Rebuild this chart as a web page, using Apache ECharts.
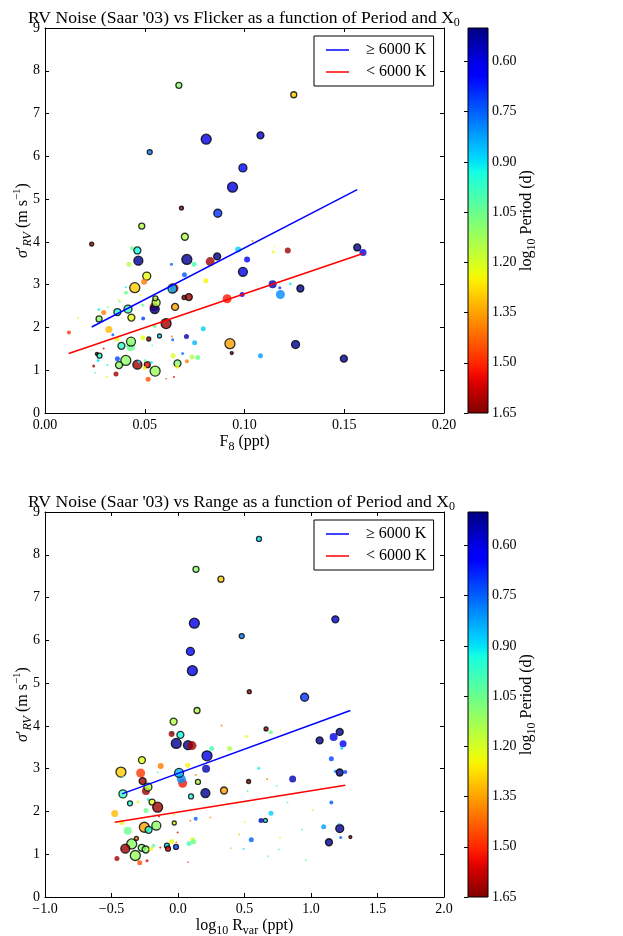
<!DOCTYPE html>
<html>
<head>
<meta charset="utf-8">
</head>
<body style="margin: 0">
<div id="container" style="width: 623px; height: 936px"></div>
<script src="https://cdn.jsdelivr.net/npm/echarts@6/dist/echarts.min.js"></script>
<script>
// rows: [x, sigma'RV (m/s), log10 Period (d), marker diameter (X0), black edge]
const flickerPts = [
  [0.0671, 7.66, 1.10, 6, 1], [0.1247, 7.44, 1.30, 6, 1], [0.0808, 6.40, 0.60, 10, 1],
  [0.1080, 6.49, 0.58, 7, 1], [0.0525, 6.10, 0.78, 5, 1], [0.0992, 5.73, 0.65, 8, 1],
  [0.0940, 5.28, 0.60, 10, 1], [0.0684, 4.79, 1.62, 4, 1], [0.0866, 4.67, 0.70, 8, 1],
  [0.0485, 4.37, 1.15, 6, 1], [0.0234, 3.95, 1.62, 4, 1], [0.0701, 4.12, 1.15, 7, 1],
  [0.0436, 3.85, 1.05, 4, 0], [0.0463, 3.80, 0.93, 7, 1], [0.0468, 3.56, 0.52, 9, 1],
  [0.0421, 3.48, 1.15, 5, 0], [0.0510, 3.20, 1.22, 8, 1], [0.0497, 3.07, 1.40, 6, 0],
  [0.0450, 2.93, 1.30, 10, 1], [0.0405, 2.94, 0.90, 2, 0], [0.0406, 2.81, 1.05, 4, 0],
  [0.0480, 2.76, 1.25, 2, 0], [0.0370, 2.64, 1.25, 2, 0], [0.0375, 2.60, 1.05, 2, 0],
  [0.0270, 2.42, 0.95, 3, 0], [0.0315, 2.48, 1.05, 2, 0], [0.0294, 2.35, 1.40, 5, 0],
  [0.0363, 2.36, 0.95, 7, 1], [0.0416, 2.43, 0.98, 8, 1], [0.0433, 2.23, 1.22, 7, 1],
  [0.0271, 2.20, 1.10, 6, 1], [0.0166, 2.22, 1.20, 2, 0], [0.0120, 1.88, 1.48, 4, 0],
  [0.0320, 1.95, 1.32, 7, 0], [0.0340, 1.83, 0.75, 3, 0], [0.0360, 1.73, 1.22, 5, 0],
  [0.0383, 1.57, 0.97, 7, 1], [0.0430, 1.55, 1.05, 9, 0], [0.0431, 1.67, 1.10, 9, 1],
  [0.0490, 1.76, 1.22, 5, 0], [0.0520, 1.73, 1.62, 4, 1], [0.0492, 2.21, 0.72, 4, 0],
  [0.0490, 2.52, 1.05, 3, 0], [0.0547, 2.48, 1.60, 9, 0], [0.0550, 2.43, 0.52, 9, 1],
  [0.0557, 2.58, 1.15, 8, 1], [0.0553, 2.68, 1.15, 5, 1], [0.0550, 2.03, 1.05, 4, 0],
  [0.0647, 2.92, 1.55, 9, 0], [0.0639, 2.91, 0.85, 9, 1], [0.0634, 3.48, 0.75, 3, 0],
  [0.0699, 3.23, 0.75, 5, 0], [0.0711, 3.59, 0.52, 10, 1], [0.0747, 3.48, 1.00, 5, 0],
  [0.0806, 3.09, 1.25, 5, 0], [0.0828, 3.54, 1.62, 9, 0], [0.0863, 3.66, 0.52, 7, 1],
  [0.0968, 3.82, 0.88, 6, 0], [0.1013, 3.59, 0.62, 6, 0], [0.1040, 4.02, 1.40, 2, 0],
  [0.0992, 3.30, 0.60, 9, 1], [0.0988, 2.77, 0.62, 5, 0], [0.0913, 2.67, 1.52, 9, 0],
  [0.0721, 2.71, 1.62, 7, 1], [0.0697, 2.70, 1.62, 4, 1], [0.0652, 2.48, 1.35, 7, 1],
  [0.0607, 2.09, 1.62, 10, 1], [0.0574, 1.80, 0.90, 4, 1], [0.0640, 1.71, 0.75, 3, 0],
  [0.0636, 1.79, 1.40, 2, 0], [0.0709, 1.79, 0.55, 5, 0], [0.0750, 1.64, 0.85, 5, 0],
  [0.0793, 1.97, 0.88, 5, 0], [0.0927, 1.62, 1.35, 10, 1], [0.0936, 1.40, 1.62, 3, 1],
  [0.1080, 1.34, 0.82, 5, 0], [0.1256, 1.60, 0.52, 8, 1], [0.1498, 1.27, 0.52, 7, 1],
  [0.1565, 3.87, 0.52, 7, 1], [0.1594, 3.75, 0.60, 7, 0], [0.1141, 3.01, 0.55, 8, 0],
  [0.1177, 2.93, 0.70, 3, 0], [0.1180, 2.77, 0.80, 9, 0], [0.1230, 3.02, 0.92, 3, 0],
  [0.1280, 2.91, 0.52, 7, 1], [0.1217, 3.80, 1.62, 6, 0], [0.1144, 3.77, 1.22, 3, 0],
  [0.1150, 3.90, 1.25, 1.5, 0], [0.0642, 1.34, 1.20, 5, 0], [0.0737, 1.31, 1.15, 5, 0],
  [0.0766, 1.30, 1.05, 5, 0], [0.0690, 1.39, 0.78, 3, 0], [0.0664, 1.16, 1.08, 7, 1],
  [0.0662, 1.08, 1.25, 4, 0], [0.0711, 1.21, 1.40, 4, 0], [0.0646, 0.84, 1.55, 2, 0],
  [0.0607, 0.80, 1.55, 1.5, 0], [0.0517, 0.79, 1.45, 5, 0], [0.0552, 0.98, 1.12, 10, 1],
  [0.0513, 1.13, 1.55, 6, 1], [0.0463, 1.13, 1.62, 9, 1], [0.0470, 1.20, 0.88, 3, 0],
  [0.0405, 1.23, 1.10, 10, 1], [0.0371, 1.12, 1.10, 7, 1], [0.0363, 1.27, 0.72, 5, 0],
  [0.0356, 0.91, 1.62, 5, 0], [0.0244, 1.10, 1.62, 3, 0], [0.0260, 1.38, 1.62, 3, 1],
  [0.0273, 1.34, 0.95, 5, 1], [0.0266, 1.23, 0.90, 3, 0], [0.0294, 1.51, 1.55, 2, 0],
  [0.0313, 1.12, 0.92, 2, 0], [0.0252, 0.94, 1.05, 2, 0], [0.0311, 0.85, 1.22, 2, 0],
  [0.0502, 1.23, 1.05, 3, 0], [0.0499, 1.05, 1.25, 4, 0], [0.0537, 1.58, 1.05, 2, 0],
  [0.0533, 1.18, 0.90, 3, 0]
];

const rangePts = [
  [0.609, 8.37, 0.90, 5, 1], [0.135, 7.66, 1.10, 6, 1], [0.323, 7.43, 1.30, 6, 1],
  [0.123, 6.40, 0.60, 10, 1], [1.183, 6.49, 0.58, 7, 1], [0.479, 6.10, 0.78, 5, 1],
  [0.093, 5.74, 0.65, 8, 1], [0.108, 5.29, 0.60, 10, 1], [0.536, 4.80, 1.62, 4, 1],
  [0.952, 4.67, 0.70, 8, 1], [0.143, 4.36, 1.15, 6, 1], [-0.033, 4.10, 1.15, 7, 1],
  [0.328, 4.01, 1.40, 2, 0], [0.662, 3.93, 1.62, 4, 1], [0.699, 3.85, 1.05, 4, 0],
  [0.770, 3.90, 1.25, 1.5, 0], [-0.045, 3.84, 0.88, 4, 0], [-0.048, 3.81, 1.62, 6, 0],
  [0.018, 3.79, 0.93, 7, 1], [-0.013, 3.59, 0.52, 10, 1], [0.075, 3.55, 0.52, 9, 1],
  [0.105, 3.54, 1.62, 9, 0], [0.253, 3.47, 1.00, 5, 0], [0.388, 3.47, 1.15, 5, 0],
  [0.514, 3.76, 1.22, 3, 0], [0.073, 3.08, 1.25, 5, 0], [0.218, 3.30, 0.60, 10, 1],
  [0.211, 3.00, 0.55, 8, 0], [0.133, 2.85, 1.40, 2, 0], [0.035, 2.66, 1.52, 9, 0],
  [0.025, 2.76, 0.80, 9, 0], [0.008, 2.90, 0.85, 9, 1], [0.150, 2.69, 1.15, 5, 1],
  [0.531, 2.70, 1.62, 4, 1], [0.670, 2.76, 1.40, 2, 0], [0.607, 3.01, 0.92, 3, 0],
  [0.743, 2.60, 1.05, 2, 0], [0.862, 2.76, 0.55, 7, 0], [0.206, 2.43, 0.52, 9, 1],
  [0.098, 2.35, 0.95, 5, 1], [0.346, 2.49, 1.35, 7, 1], [0.348, 2.64, 1.25, 1.5, 0],
  [0.523, 2.48, 1.00, 2, 0], [0.823, 2.21, 1.05, 2, 0], [1.013, 2.03, 1.20, 2, 0],
  [1.065, 3.66, 0.52, 7, 1], [1.170, 3.74, 0.60, 8, 0], [1.216, 3.86, 0.52, 7, 1],
  [1.241, 3.58, 0.62, 7, 0], [1.231, 3.48, 0.88, 3, 0], [1.153, 3.23, 0.72, 5, 0],
  [1.183, 2.94, 0.80, 3, 0], [1.216, 2.91, 0.52, 7, 1], [1.258, 2.92, 0.72, 4, 0],
  [1.153, 2.21, 0.75, 4, 0], [1.216, 1.60, 0.52, 8, 1], [1.213, 1.71, 0.88, 2, 0],
  [1.095, 1.64, 0.82, 5, 0], [1.223, 1.39, 0.75, 3, 0], [1.296, 1.40, 1.62, 3, 1],
  [1.135, 1.28, 0.52, 7, 1], [0.551, 1.34, 0.75, 5, 0], [0.933, 1.58, 1.05, 2, 0],
  [0.767, 1.39, 1.22, 2, 0], [0.758, 1.11, 1.05, 2, 0], [0.960, 0.86, 1.05, 2, 0],
  [0.624, 1.79, 0.55, 5, 0], [0.657, 1.79, 0.90, 4, 1], [0.699, 1.96, 0.88, 5, 0],
  [0.493, 1.12, 0.90, 2, 0], [0.675, 0.95, 1.05, 2, 0], [0.461, 1.46, 1.30, 2, 0],
  [0.398, 1.14, 1.10, 2, 0], [0.501, 1.75, 1.22, 2, 0], [0.133, 1.83, 0.75, 4, 0],
  [0.093, 1.78, 1.40, 2, 0], [0.243, 1.86, 1.35, 2, 0], [0.110, 1.34, 1.20, 5, 0],
  [0.118, 1.29, 1.05, 5, 0], [0.083, 1.25, 1.00, 5, 0], [-0.015, 1.17, 0.72, 5, 1],
  [-0.083, 1.20, 0.90, 5, 1], [-0.075, 1.13, 1.55, 5, 1], [-0.048, 1.30, 1.22, 5, 0],
  [-0.003, 1.51, 1.55, 2, 0], [-0.013, 1.28, 1.40, 2, 0], [0.075, 0.81, 1.55, 1.5, 0],
  [-0.028, 1.73, 1.22, 4, 1], [-0.233, 0.85, 1.55, 3, 0], [-0.288, 0.80, 1.45, 5, 0],
  [-0.321, 0.97, 1.12, 10, 1], [-0.348, 1.24, 1.10, 10, 1], [-0.396, 1.13, 1.62, 9, 1],
  [-0.459, 0.90, 1.62, 5, 0], [-0.313, 1.37, 1.40, 4, 1], [-0.273, 1.15, 1.08, 7, 1],
  [-0.243, 1.11, 1.10, 7, 1], [-0.203, 1.12, 1.25, 4, 0], [-0.185, 1.20, 1.05, 4, 0],
  [-0.133, 1.16, 1.55, 2, 0], [-0.163, 1.67, 1.10, 9, 1], [-0.253, 1.63, 1.35, 10, 1],
  [-0.221, 1.57, 0.95, 7, 1], [-0.378, 1.55, 1.05, 8, 0], [-0.476, 1.95, 1.32, 7, 0],
  [-0.421, 1.74, 1.22, 5, 0], [-0.361, 2.19, 0.95, 5, 1], [-0.301, 2.22, 1.22, 3, 0],
  [-0.223, 2.28, 0.92, 3, 0], [-0.241, 2.02, 1.05, 5, 0], [-0.195, 2.22, 1.22, 6, 1],
  [-0.153, 2.10, 1.62, 10, 1], [-0.143, 1.88, 1.55, 2, 0], [-0.033, 1.93, 1.25, 2, 0],
  [-0.429, 2.92, 1.30, 10, 1], [-0.411, 2.81, 1.05, 2, 0], [-0.414, 2.41, 0.98, 8, 1],
  [-0.281, 2.90, 1.48, 9, 0], [-0.266, 2.71, 1.62, 7, 1], [-0.241, 2.48, 1.62, 8, 0],
  [-0.226, 2.57, 1.15, 8, 1], [-0.271, 3.20, 1.22, 7, 1], [-0.130, 3.06, 1.40, 6, 0],
  [-0.153, 2.91, 1.05, 2, 0]
];

// linear fits, endpoints [x, y]
const hotFitF8 = [[0.0234, 2.01], [0.1565, 5.22]];
const coolFitF8 = [[0.0119, 1.39], [0.1594, 3.73]];
const hotFitR = [[-0.421, 2.41], [1.296, 4.36]];
const coolFitR = [[-0.476, 1.75], [1.258, 2.61]];

const legendNames = ['\u2265 6000 K', '< 6000 K'];
const periodRange = [0.5, 1.65];
const periodTicks = [0.60, 0.75, 0.90, 1.05, 1.20, 1.35, 1.50, 1.65];

const FONT = 'Liberation Serif';

// matplotlib "jet"
function seg(s, t) {
  for (let i = 1; i < s.length; i++) {
    if (t <= s[i][0]) {
      const a = s[i - 1], b = s[i];
      return a[1] + (b[1] - a[1]) * (t - a[0]) / (b[0] - a[0]);
    }
  }
  return s[s.length - 1][1];
}
function jet(t) {
  const r = seg([[0, 0], [0.35, 0], [0.66, 1], [0.89, 1], [1, 0.5]], t);
  const g = seg([[0, 0], [0.125, 0], [0.375, 1], [0.64, 1], [0.91, 0], [1, 0]], t);
  const b = seg([[0, 0.5], [0.11, 1], [0.34, 1], [0.65, 0], [1, 0]], t);
  return 'rgb(' + Math.round(r * 255) + ',' + Math.round(g * 255) + ',' + Math.round(b * 255) + ')';
}
const jetColors = [];
const jetStops = [];
for (let i = 0; i <= 40; i++) {
  jetColors.push(jet(i / 40));
  jetStops.push({ offset: i / 40, color: jet(i / 40) });
}

function toItems(rows) {
  return rows.map(function (r) {
    return {
      value: [r[0], r[1], r[2]],
      symbolSize: r[3],
      itemStyle: r[4] ? { borderColor: '#000', borderWidth: 1.3 } : { borderWidth: 0 }
    };
  });
}

const minus = function (s) { return s.replace('-', '\u2212'); };

const richText = {
  sub: { fontFamily: FONT, fontSize: 12, verticalAlign: 'bottom', lineHeight: 12, color: '#000' },
  subit: { fontFamily: FONT, fontSize: 12, fontStyle: 'italic', verticalAlign: 'bottom', lineHeight: 12, color: '#000' },
  sup: { fontFamily: FONT, fontSize: 11, verticalAlign: 'top', lineHeight: 11, color: '#000' },
  it: { fontFamily: FONT, fontSize: 16, fontStyle: 'italic', color: '#000' }
};

const tickLabel = { fontFamily: FONT, fontSize: 14, color: '#000' };
const frameLine = { show: true, onZero: false, lineStyle: { color: '#000', width: 1 } };
const inTick = { show: true, inside: true, length: 4, lineStyle: { color: '#000' } };
const nameStyle = { fontFamily: FONT, fontSize: 16, color: '#000', lineHeight: 22, rich: richText };

function plotAxes(gridIndex, xmin, xmax, xint, xfmt, xname) {
  const x = [
    {
      type: 'value', gridIndex: gridIndex, position: 'bottom', min: xmin, max: xmax, interval: xint,
      axisLine: frameLine, axisTick: inTick, splitLine: { show: false },
      axisLabel: Object.assign({ margin: 5, formatter: xfmt }, tickLabel),
      name: xname, nameLocation: 'middle', nameGap: 18, nameMoveOverlap: false,
      nameTextStyle: nameStyle
    },
    {
      type: 'value', gridIndex: gridIndex, position: 'top', min: xmin, max: xmax, interval: xint,
      axisLine: frameLine, axisTick: inTick, splitLine: { show: false }, axisLabel: { show: false }
    }
  ];
  const y = [
    {
      type: 'value', gridIndex: gridIndex, position: 'left', min: 0, max: 9, interval: 1,
      axisLine: frameLine, axisTick: inTick, splitLine: { show: false },
      axisLabel: Object.assign({ margin: 5 }, tickLabel),
      name: "{it|\u03c3}\u2032{subit|RV} (m s{sup|\u22121})", nameLocation: 'middle', nameGap: 11, nameRotate: 90,
      nameMoveOverlap: false, nameTextStyle: nameStyle
    },
    {
      type: 'value', gridIndex: gridIndex, position: 'right', min: 0, max: 9, interval: 1,
      axisLine: frameLine, axisTick: inTick, splitLine: { show: false }, axisLabel: { show: false }
    }
  ];
  return { x: x, y: y };
}

function cbarAxes(gridIndex) {
  return {
    x: { type: 'value', gridIndex: gridIndex, min: 0, max: 1, show: false },
    y: {
      type: 'value', gridIndex: gridIndex, position: 'right', inverse: true,
      min: periodRange[0], max: periodRange[1],
      axisLine: { show: false }, splitLine: { show: false },
      axisTick: { show: true, inside: true, length: 4, customValues: periodTicks, lineStyle: { color: '#000' } },
      axisLabel: Object.assign({ margin: 4, customValues: periodTicks, formatter: function (v) { return v.toFixed(2); } }, tickLabel),
      name: 'log{sub|10} Period (d)', nameLocation: 'middle', nameGap: 28, nameRotate: 90,
      nameMoveOverlap: false, nameTextStyle: nameStyle
    }
  };
}

const a1 = plotAxes(0, 0, 0.2, 0.05, function (v) { return v.toFixed(2); }, 'F{sub|8} (ppt)');
const c1 = cbarAxes(1);
const a2 = plotAxes(2, -1, 2, 0.5, function (v) { return minus(v.toFixed(1)); }, 'log{sub|10} R{sub|var} (ppt)');
const c2 = cbarAxes(3);

function fitSeries(name, data, color, xi, yi) {
  return {
    name: name, type: 'line', xAxisIndex: xi, yAxisIndex: yi, data: data,
    symbol: 'none', color: color, lineStyle: { color: color, width: 1.5 }, z: 5, silent: true
  };
}

function cbarSeries(xi, yi) {
  return {
    type: 'custom', xAxisIndex: xi, yAxisIndex: yi, silent: true,
    data: [[periodRange[0], periodRange[1]]],
    renderItem: function (params, api) {
      const p0 = api.coord([0, api.value(0)]);
      const p1 = api.coord([1, api.value(1)]);
      return {
        type: 'rect',
        shape: { x: p0[0], y: p0[1], width: p1[0] - p0[0], height: p1[1] - p0[1] },
        style: { fill: new echarts.graphic.LinearGradient(0, 0, 0, 1, jetStops), stroke: '#000', lineWidth: 1 }
      };
    }
  };
}

function legendAt(top) {
  return {
    left: 314, top: top, orient: 'vertical', data: legendNames,
    icon: 'rect', itemWidth: 23, itemHeight: 1.5, itemGap: 6,
    padding: [6, 7, 6, 12], borderColor: '#000', borderWidth: 1, borderRadius: 0,
    backgroundColor: '#fff', selectedMode: false,
    textStyle: { fontFamily: FONT, fontSize: 16, color: '#000', lineHeight: 16, padding: [0, 0, 0, 12] }
  };
}

function titleAt(text, top) {
  return {
    text: text, left: 23, top: top,
    textStyle: { fontFamily: FONT, fontSize: 17.6, fontWeight: 'normal', color: '#000', lineHeight: 22, rich: {
      sub: { fontFamily: FONT, fontSize: 12, verticalAlign: 'bottom', lineHeight: 12, color: '#000' }
    } }
  };
}

const chart = echarts.init(document.getElementById('container'), null, { renderer: 'canvas' });

const option = {
  animation: false,
  backgroundColor: '#fff',
  title: [
    titleAt("RV Noise (Saar '03) vs Flicker as a function of Period and X{sub|0}", 2),
    titleAt("RV Noise (Saar '03) vs Range as a function of Period and X{sub|0}", 486)
  ],
  legend: [legendAt(36), legendAt(520)],
  grid: [
    { left: 45, top: 28, width: 399, height: 385, outerBoundsMode: 'none' },
    { left: 468, top: 28, width: 20, height: 385, outerBoundsMode: 'none' },
    { left: 45, top: 512, width: 399, height: 385, outerBoundsMode: 'none' },
    { left: 468, top: 512, width: 20, height: 385, outerBoundsMode: 'none' }
  ],
  xAxis: [a1.x[0], a1.x[1], c1.x, a2.x[0], a2.x[1], c2.x],
  yAxis: [a1.y[0], a1.y[1], c1.y, a2.y[0], a2.y[1], c2.y],
  visualMap: [{
    type: 'continuous', show: false, min: periodRange[0], max: periodRange[1],
    dimension: 2, seriesIndex: [0, 4], inRange: { color: jetColors }
  }],
  series: [
    { type: 'scatter', xAxisIndex: 0, yAxisIndex: 0, data: toItems(flickerPts), silent: true },
    fitSeries(legendNames[0], hotFitF8, '#0000ff', 0, 0),
    fitSeries(legendNames[1], coolFitF8, '#ff0000', 0, 0),
    cbarSeries(2, 2),
    { type: 'scatter', xAxisIndex: 3, yAxisIndex: 3, data: toItems(rangePts), silent: true },
    fitSeries(legendNames[0], hotFitR, '#0000ff', 3, 3),
    fitSeries(legendNames[1], coolFitR, '#ff0000', 3, 3),
    cbarSeries(5, 5)
  ]
};

chart.setOption(option);
</script>
</body>
</html>
